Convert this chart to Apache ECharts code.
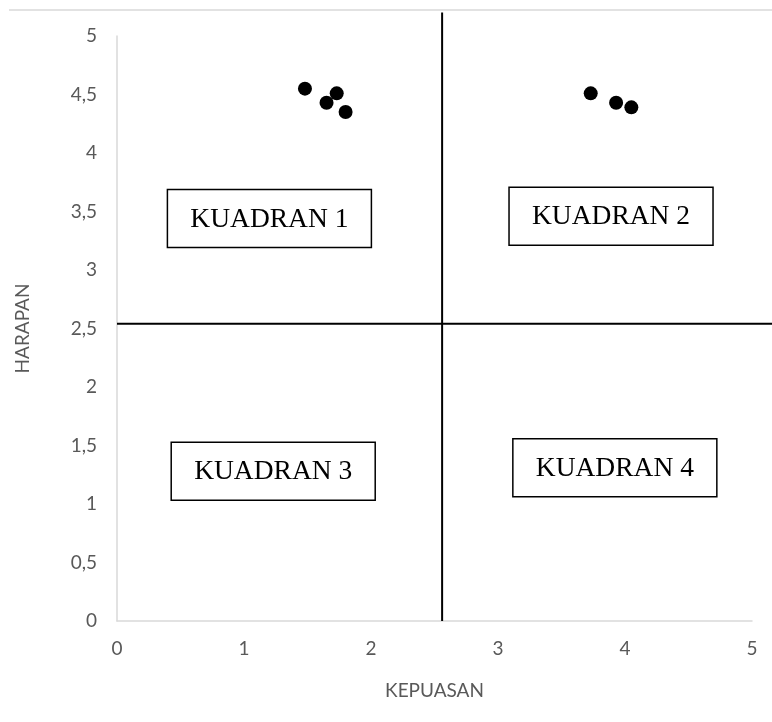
<!DOCTYPE html>
<html><head><meta charset="utf-8">
<script src="https://cdn.jsdelivr.net/npm/echarts@6/dist/echarts.min.js"></script>
<style>html,body{margin:0;padding:0;background:#fff}#c{width:772px;height:722px}</style>
</head><body><div id="c"></div>
<script>
// Data
const kepuasan = [1.48, 1.65, 1.73, 1.80, 3.73, 3.93, 4.05];
const harapan  = [4.55, 4.43, 4.51, 4.35, 4.51, 4.43, 4.39];
const meanKepuasan = 2.56;
const meanHarapan = 2.54;
const vLineRange = [0, 5.2];
const hLineRange = [0, 5.2];
const quadrantLabels = ['KUADRAN 1', 'KUADRAN 2', 'KUADRAN 3', 'KUADRAN 4'];
const quadrantX = [1.20, 3.89, 1.23, 3.92];
const quadrantY = [3.44, 3.46, 1.28, 1.31];
const xAxisName = 'KEPUASAN';
const yAxisName = 'HARAPAN';

const axisFont = 'Lato';
const chart = echarts.init(document.getElementById('c'), null, {renderer: 'canvas'});
const option = {
  animation: false,
  backgroundColor: '#fff',
  grid: {left: 117, right: 20, top: 36, bottom: 101, containLabel: false},
  xAxis: {
    type: 'value', min: 0, max: 5, interval: 1,
    name: xAxisName, nameLocation: 'middle', nameGap: 60,
    nameTextStyle: {color: '#595959', fontSize: 19, fontFamily: axisFont},
    axisLine: {show: true, lineStyle: {color: '#d9d9d9', width: 1.5}},
    axisTick: {show: false}, splitLine: {show: false},
    axisLabel: {color: '#595959', fontSize: 19, fontFamily: axisFont, margin: 18}
  },
  yAxis: {
    type: 'value', min: 0, max: 5, interval: 0.5,
    name: yAxisName, nameLocation: 'middle', nameGap: 85,
    nameTextStyle: {color: '#595959', fontSize: 19, fontFamily: axisFont},
    axisLine: {show: true, lineStyle: {color: '#d9d9d9', width: 1.5}},
    axisTick: {show: false}, splitLine: {show: false},
    axisLabel: {color: '#595959', fontSize: 19, fontFamily: axisFont, margin: 20,
      formatter: v => String(v).replace('.', ',')}
  },
  series: [
    {
      type: 'scatter', symbol: 'circle', symbolSize: 14, z: 5,
      itemStyle: {color: '#000', opacity: 1},
      data: kepuasan.map((x, i) => [x, harapan[i]])
    }
  ]
};
chart.setOption(option);

const toPx = (x, y) => chart.convertToPixel({gridIndex: 0}, [x, y]);
const graphics = [{
  type: 'line', shape: {x1: 9, y1: 10, x2: 772, y2: 10},
  style: {stroke: '#d9d9d9', lineWidth: 1.5}
}];
// quadrant divider lines, from the named values via the axis scales
const v0 = toPx(meanKepuasan, vLineRange[0]), v1 = toPx(meanKepuasan, vLineRange[1]);
const h0 = toPx(hLineRange[0], meanHarapan), h1 = toPx(hLineRange[1], meanHarapan);
graphics.push({type: 'line', shape: {x1: v0[0], y1: v0[1], x2: v1[0], y2: v1[1]},
  style: {stroke: '#000', lineWidth: 2}, z: 3});
graphics.push({type: 'line', shape: {x1: h0[0], y1: h0[1], x2: h1[0], y2: h1[1]},
  style: {stroke: '#000', lineWidth: 2}, z: 3});
quadrantLabels.forEach((t, i) => {
  const p = toPx(quadrantX[i], quadrantY[i]);
  const w = 204, h = 58;
  graphics.push({
    type: 'rect', shape: {x: p[0] - w / 2, y: p[1] - h / 2, width: w, height: h},
    style: {fill: '#fff', stroke: '#000', lineWidth: 1.5}, z: 10
  });
  graphics.push({
    type: 'text', x: p[0], y: p[1] + 1, z: 11,
    style: {text: t, font: '27.5px "Liberation Serif"', fill: '#000', align: 'center', verticalAlign: 'middle'}
  });
});
chart.setOption({graphic: graphics});
</script>
</body></html>
